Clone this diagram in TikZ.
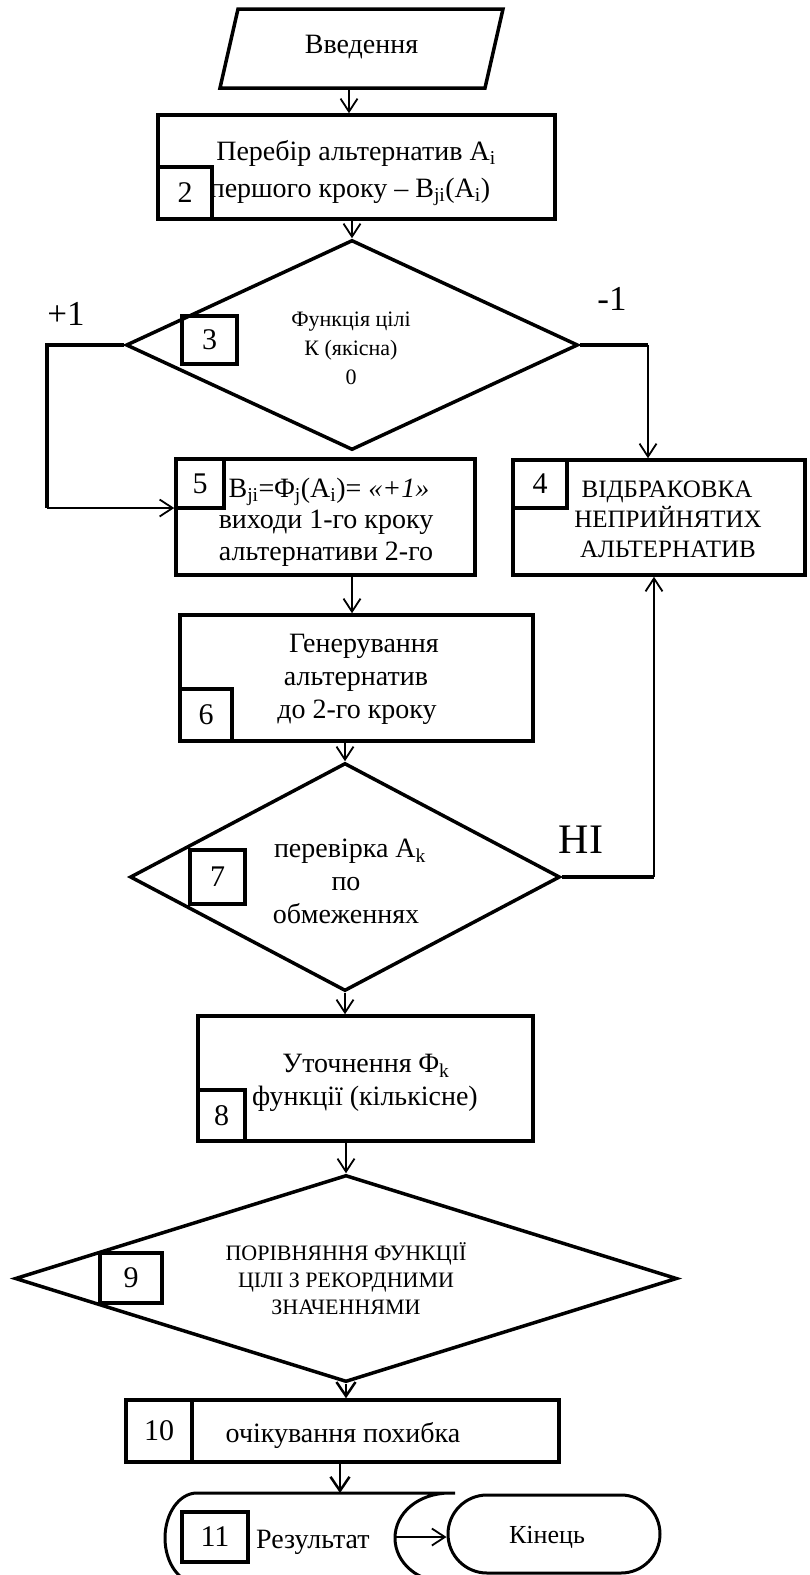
\documentclass[tikz,border=0pt]{standalone}
\usepackage{fontspec}
\setmainfont{Liberation Serif}
\usetikzlibrary{arrows.meta,shapes.geometric}
\newcommand{\fsz}[1]{\fontsize{#1}{#1}\selectfont}
\begin{document}
\begin{tikzpicture}[x=1pt,y=-1pt,
  shp/.style={draw, line width=3.5pt},
  boxn/.style={shp, rectangle, inner sep=0pt},
  numb/.style={boxn, font=\fsz{30}},
  dia/.style={shp, diamond, inner sep=0pt},
  txt/.style={anchor=base, inner sep=0pt, font=\fsz{28}},
  stxt/.style={anchor=base, inner sep=0pt, font=\fsz{22}},
  ctxt/.style={anchor=base, inner sep=0pt, font=\fsz{25}},
  arr/.style={line width=1.8pt, -{Straight Barb[length=13pt,width=17pt]}},
  arrb/.style={line width=2.5pt, -{Straight Barb[length=14pt,width=19pt]}},
  thk/.style={line width=3.3pt},
]
\useasboundingbox (0,0) rectangle (809,1575);
\clip (0,0) rectangle (809,1575);

% 1 input
\node[minimum width=283pt, minimum height=79pt, outer sep=0pt, inner sep=0pt] (inp) at (361.5,48.5) {};
\draw[shp, line join=miter] (inp.south west) -- ([xshift=18pt]inp.north west) -- (inp.north east) -- ([xshift=-18pt]inp.south east) -- cycle;
\node[txt] (tin) at (361.5,53) {Введення};

% 2
\node[boxn, minimum width=397pt, minimum height=104pt] (b2) at (356.5,167) {};
\node[numb, minimum width=54pt, minimum height=52pt] (n2) at (185,193) {2};
\node[txt] (t2a) at (356,160) {Перебір альтернатив A\textsubscript{i}};
\node[txt] (t2b) at (350,197) {першого кроку – B\textsubscript{ji}(A\textsubscript{i})};

% 3
\node[dia, minimum width=452pt, minimum height=210pt] (d3) at (352,345) {};
\node[numb, minimum width=55pt, minimum height=48pt] (n3) at (209.5,340) {3};
\node[stxt] (t3a) at (351,326) {Функція цілі};
\node[stxt] (t3b) at (351,355) {К (якісна)};
\node[stxt] (t3c) at (351,384) {0};
\node[anchor=base, inner sep=0pt, font=\fsz{35}] (lp) at (66,325) {+1};
\node[anchor=base, inner sep=0pt, font=\fsz{35}] (lm) at (612,310) {-1};

% 5
\node[boxn, minimum width=299pt, minimum height=116pt] (b5) at (325.5,517) {};
\node[numb, minimum width=48pt, minimum height=49pt] (n5) at (200,483.5) {5};
\node[txt] (t5a) at (329,497) {B\textsubscript{ji}=Φ\textsubscript{j}(A\textsubscript{i})= \textit{«+1»}};
\node[txt] (t5b) at (326,528) {виходи 1-го кроку};
\node[txt] (t5c) at (326,560) {альтернативи 2-го};

% 4
\node[boxn, minimum width=292pt, minimum height=115pt] (b4) at (659,517.5) {};
\node[numb, minimum width=54pt, minimum height=48pt] (n4) at (540,484) {4};
\node[ctxt] (t4a) at (667,497) {ВІДБРАКОВКА};
\node[ctxt] (t4b) at (668,527) {НЕПРИЙНЯТИХ};
\node[ctxt] (t4c) at (668,557) {АЛЬТЕРНАТИВ};

% 6
\node[boxn, minimum width=353pt, minimum height=126pt] (b6) at (356.5,678) {};
\node[numb, minimum width=52pt, minimum height=52pt] (n6) at (206,715) {6};
\node[txt] (t6a) at (364,652) {Генерування};
\node[txt] (t6b) at (356,685) {альтернатив};
\node[txt] (t6c) at (357,718) {до 2-го кроку};

% 7
\node[dia, minimum width=430pt, minimum height=228pt] (d7) at (345,877) {};
\node[numb, minimum width=55pt, minimum height=54pt] (n7) at (217.5,877) {7};
\node[txt] (t7a) at (350,857) {перевірка A\textsubscript{k}};
\node[txt] (t7b) at (346,890) {по};
\node[txt] (t7c) at (346,923) {обмеженнях};
\node[anchor=base, inner sep=0pt, font=\fsz{42}] (lni) at (581,853) {НІ};

% 8
\node[boxn, minimum width=335pt, minimum height=125pt] (b8) at (365.5,1078.5) {};
\node[numb, minimum width=47pt, minimum height=51pt] (n8) at (221.5,1115.5) {8};
\node[txt] (t8a) at (366,1072) {Уточнення Φ\textsubscript{k}};
\node[txt] (t8b) at (365,1105) {функції (кількісне)};

% 9
\node[dia, minimum width=662pt, minimum height=207pt] (d9) at (346,1278.5) {};
\node[numb, minimum width=62pt, minimum height=50pt] (n9) at (131,1278) {9};
\node[stxt] (t9a) at (346,1260) {ПОРІВНЯННЯ ФУНКЦІЇ};
\node[stxt] (t9b) at (346,1287) {ЦІЛІ З РЕКОРДНИМИ};
\node[stxt] (t9c) at (346,1314) {ЗНАЧЕННЯМИ};

% 10
\node[boxn, minimum width=433pt, minimum height=62pt] (b10) at (342.5,1431) {};
\node[numb, minimum width=66pt, minimum height=62pt] (n10) at (159,1431) {10};
\node[txt] (t10) at (343,1442) {очікування похибка};

% 11 result (stored data shape)
\draw[line width=3pt] (455,1493) -- (197,1493)
  .. controls (179.3,1493) and (165,1513.2) .. (165,1538)
  .. controls (165,1562.8) and (179.3,1583) .. (197,1583) -- (450,1583)
  .. controls (418,1583) and (395,1562.8) .. (395,1538)
  .. controls (395,1513.2) and (418,1493) .. (450,1493);
\node[numb, minimum width=66pt, minimum height=50pt] (n11) at (215,1537) {11};
\node[txt, anchor=base west] (t11) at (256,1548) {Результат};

% end
\node[draw, line width=3pt, rounded corners=39pt, minimum width=212pt, minimum height=78pt, inner sep=0pt] (fin) at (554,1534) {};
\node[anchor=base, inner sep=0pt, font=\fsz{26}] (tfin) at (547,1543) {Кінець};

% connectors
\coordinate (a1) at ([xshift=-12.5pt]inp.south);
\draw[arr] (a1) -- (a1 |- b2.north);
\draw[arr] (b2.south -| d3.north) -- (d3.north);
\coordinate (c3l) at (47,345);
\coordinate (c3b) at (47,508);
\draw[thk, line join=miter] (d3.west) -- (c3l) -- (c3b);
\draw[arr] (c3b) -- (c3b -| b5.west);
\coordinate (c3r) at (648,345);
\draw[thk] (d3.east) -- (c3r);
\draw[arr] (c3r) -- (c3r |- b4.north);
\draw[arr] (b5.south -| d3.south) -- (b6.north -| d3.south);
\draw[arr] (b6.south -| d7.north) -- (d7.north);
\coordinate (c7r) at (654,877);
\draw[thk] (d7.east) -- (c7r);
\draw[arr] (c7r) -- (c7r |- b4.south);
\draw[arr] (d7.south) -- (d7.south |- b8.north);
\draw[arr] (b8.south -| d9.north) -- (d9.north);
\draw[arrb] (d9.south) -- (d9.south |- b10.north);
\coordinate (t11top) at (340,1493);
\draw[arrb] (b10.south -| t11top) -- (t11top);
\coordinate (t11out) at (396,1537);
\draw[arr] (t11out) -- (t11out -| fin.west);
\end{tikzpicture}
\end{document}
